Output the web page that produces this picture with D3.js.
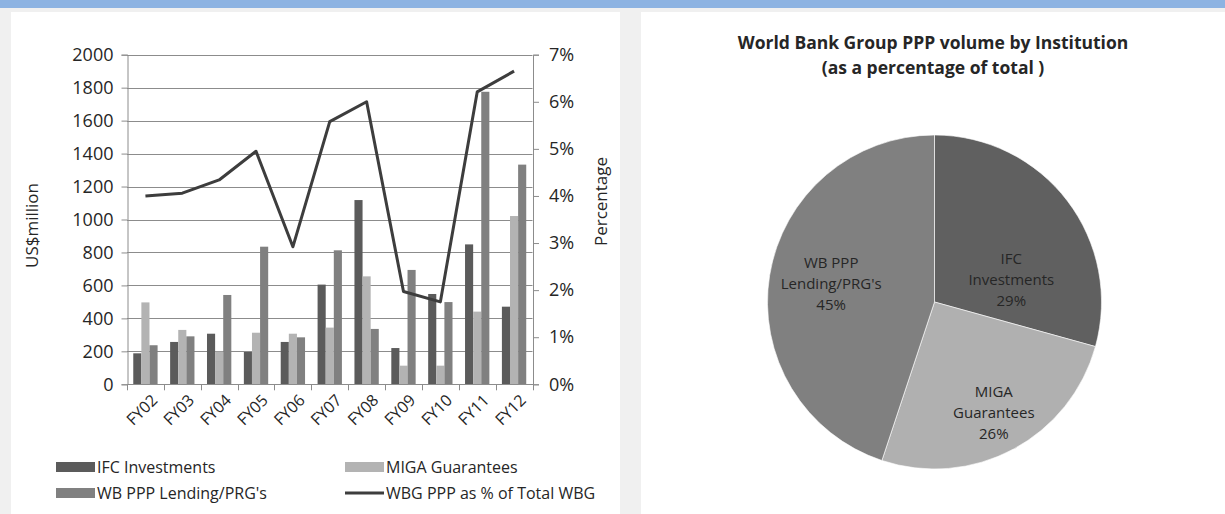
<!DOCTYPE html>
<html lang="en">
<head>
<meta charset="utf-8">
<title>World Bank Group PPP volume</title>
<style>
  html, body { margin: 0; padding: 0; background: #f0f0f0; }
  svg { display: block; }
  text { font-family: "Open Sans", "DejaVu Sans", sans-serif; fill: #262626; }
</style>
</head>
<body>
<svg id="chart" width="1225" height="514"></svg>

<script src="https://cdn.jsdelivr.net/npm/d3@7"></script>
<script>
// ---- data ----
const years = ['FY02', 'FY03', 'FY04', 'FY05', 'FY06', 'FY07', 'FY08', 'FY09', 'FY10', 'FY11', 'FY12'];
const ifcInvestments = [188, 257, 307, 196, 257, 605, 1118, 220, 548, 849, 471];
const migaGuarantees = [497, 330, 198, 313, 307, 344, 655, 113, 113, 441, 1021];
const wbLending = [237, 291, 542, 835, 285, 813, 336, 694, 499, 1775, 1333];
const wbgShare = [4.0, 4.06, 4.34, 4.95, 2.92, 5.58, 6.0, 1.97, 1.75, 6.21, 6.65]; // percent
const leftTicks = [0, 200, 400, 600, 800, 1000, 1200, 1400, 1600, 1800, 2000];
const rightTicks = [0, 1, 2, 3, 4, 5, 6, 7];

const pieLines = [['IFC', 'Investments'], ['MIGA', 'Guarantees'], ['WB PPP', "Lending/PRG's"]];
const pieShares = [29.3, 25.8, 44.9];

const seriesNames = ['IFC Investments', 'MIGA Guarantees', "WB PPP Lending/PRG's"];
const seriesColors = ['#5b5b5b', '#b3b3b3', '#808080'];
const lineColor = '#3d3d3d';

const svg = d3.select('#chart');

// page background: blue strip on top, grey gap, two white panels
svg.append('rect').attr('x', 0).attr('y', 0).attr('width', 1225).attr('height', 514).attr('fill', '#f0f0f0');
svg.append('rect').attr('x', 0).attr('y', 0).attr('width', 1225).attr('height', 8).attr('fill', '#8db3e2');
svg.append('rect').attr('x', 11).attr('y', 12).attr('width', 609).attr('height', 502).attr('fill', '#fff');
svg.append('rect').attr('x', 641).attr('y', 12).attr('width', 584).attr('height', 502).attr('fill', '#fff');

// ================= left: bars + line =================
const plot = { left: 127, right: 532.5, top: 54.7, bottom: 384.3 };

const x = d3.scaleBand()
  .domain(years)
  .range([plot.left, plot.right])
  .paddingInner(0.34)
  .paddingOuter(0.17);

const xSub = d3.scaleBand()
  .domain([0, 1, 2])
  .range([0, x.bandwidth()]);

const y = d3.scaleLinear().domain([0, 2000]).range([plot.bottom, plot.top]);
const yPct = d3.scaleLinear().domain([0, 7]).range([plot.bottom, plot.top]);

const left = svg.append('g');

// gridlines
left.append('g')
  .selectAll('line')
  .data(leftTicks.slice(1))
  .join('line')
  .attr('x1', plot.left).attr('x2', plot.right)
  .attr('y1', d => Math.round(y(d)) + 0.5).attr('y2', d => Math.round(y(d)) + 0.5)
  .attr('stroke', '#8c8c8c').attr('stroke-width', 1);

// bars
const table = years.map((yr, i) => ({ yr, vals: [ifcInvestments[i], migaGuarantees[i], wbLending[i]] }));

left.append('g')
  .selectAll('g')
  .data(table)
  .join('g')
  .attr('transform', d => `translate(${x(d.yr)},0)`)
  .selectAll('rect')
  .data(d => d.vals.map((v, k) => ({ v, k })))
  .join('rect')
  .attr('x', d => xSub(d.k))
  .attr('width', xSub.bandwidth())
  .attr('y', d => y(d.v))
  .attr('height', d => y(0) - y(d.v))
  .attr('fill', d => seriesColors[d.k]);

// left axis
const yAxis = d3.axisLeft(y).tickValues(leftTicks).tickSize(6).tickPadding(8)
  .tickFormat(d3.format('d'));
const gY = left.append('g')
  .attr('transform', `translate(${plot.left + 0.5},0)`)
  .call(yAxis);

// right axis
const yAxisR = d3.axisRight(yPct).tickValues(rightTicks).tickSize(6).tickPadding(10)
  .tickFormat(d => d + '%');
const gYR = left.append('g')
  .attr('transform', `translate(${plot.right + 0.5},0)`)
  .call(yAxisR);

// x axis: ticks at category boundaries
const gX = left.append('g');
gX.append('line')
  .attr('x1', plot.left).attr('x2', plot.right + 1)
  .attr('y1', Math.round(plot.bottom) + 0.5).attr('y2', Math.round(plot.bottom) + 0.5)
  .attr('stroke', '#8c8c8c');
gX.selectAll('line.tk')
  .data(d3.range(years.length + 1))
  .join('line')
  .attr('class', 'tk')
  .attr('x1', i => Math.round(plot.left + i * x.step()) + 0.5)
  .attr('x2', i => Math.round(plot.left + i * x.step()) + 0.5)
  .attr('y1', plot.bottom).attr('y2', plot.bottom + 6)
  .attr('stroke', '#8c8c8c');
gX.selectAll('text')
  .data(years)
  .join('text')
  .attr('transform', d => `translate(${x(d) + x.bandwidth() / 2 + 9},${plot.bottom + 13}) rotate(-45)`)
  .attr('text-anchor', 'end')
  .attr('dy', '0.35em')
  .style('font-size', '16px')
  .text(d => d);

[gY, gYR].forEach(g => {
  g.select('.domain').attr('stroke', '#8c8c8c');
  g.selectAll('.tick line').attr('stroke', '#8c8c8c');
  g.selectAll('.tick text').style('font-size', '18px').attr('fill', '#262626')
    .style('font-family', '"Open Sans", sans-serif');
});

// percentage line
const line = d3.line()
  .x((d, i) => x(years[i]) + x.bandwidth() / 2)
  .y(d => yPct(d));

left.append('path')
  .datum(wbgShare)
  .attr('d', line)
  .attr('fill', 'none')
  .attr('stroke', lineColor)
  .attr('stroke-width', 3)
  .attr('stroke-linejoin', 'round');

// axis titles
left.append('text')
  .attr('transform', `translate(38,${(plot.top + plot.bottom) / 2 + 6}) rotate(-90)`)
  .attr('text-anchor', 'middle')
  .style('font-size', '17px')
  .text('US$million');

left.append('text')
  .attr('transform', `translate(607,${(plot.top + plot.bottom) / 2 - 18}) rotate(-90)`)
  .attr('text-anchor', 'middle')
  .style('font-size', '17px')
  .text('Percentage');

// legend
const legendItems = [
  { name: seriesNames[0], type: 'rect', color: seriesColors[0], col: 0, row: 0 },
  { name: seriesNames[1], type: 'rect', color: seriesColors[1], col: 1, row: 0 },
  { name: seriesNames[2], type: 'rect', color: seriesColors[2], col: 0, row: 1 },
  { name: 'WBG PPP as % of Total WBG', type: 'line', color: lineColor, col: 1, row: 1 }
];
const legend = left.append('g')
  .selectAll('g')
  .data(legendItems)
  .join('g')
  .attr('transform', d => `translate(${56 + d.col * 289},${467 + d.row * 26})`);

legend.filter(d => d.type === 'rect').append('rect')
  .attr('x', 0).attr('y', -5).attr('width', 39).attr('height', 10)
  .attr('fill', d => d.color);
legend.filter(d => d.type === 'line').append('line')
  .attr('x1', 0).attr('x2', 39).attr('y1', 0).attr('y2', 0)
  .attr('stroke', d => d.color).attr('stroke-width', 3);
legend.append('text')
  .attr('x', 41).attr('y', 0).attr('dy', '0.35em')
  .style('font-size', '16px')
  .text(d => d.name);

// ================= right: pie =================
const pieCenter = [934.5, 302];
const radius = 167;
const pieColors = ['#606060', '#b0b0b0', '#808080'];

const right = svg.append('g');

right.append('text')
  .attr('x', 933).attr('y', 49)
  .attr('text-anchor', 'middle')
  .style('font-size', '17.5px').style('font-weight', 'bold').attr('fill', '#111')
  .text('World Bank Group PPP volume by Institution');
right.append('text')
  .attr('x', 933).attr('y', 74)
  .attr('text-anchor', 'middle')
  .style('font-size', '17.5px').style('font-weight', 'bold').attr('fill', '#111')
  .text('(as a percentage of total )');

const pieData = d3.pie().sort(null).value(d => d)(pieShares);
const arc = d3.arc().innerRadius(0).outerRadius(radius);

const pieG = right.append('g').attr('transform', `translate(${pieCenter})`);
pieG.selectAll('path')
  .data(pieData)
  .join('path')
  .attr('d', arc)
  .attr('fill', (d, i) => pieColors[i])
  .attr('stroke', '#fff').attr('stroke-width', 0.6);

// label placement (best-fit style): angle nudge and radius per slice
const labelNudge = [21, 0, 1];
const labelRadius = [80, 126, 105];
const lbl = pieG.selectAll('g.lbl')
  .data(pieData)
  .join('g')
  .attr('class', 'lbl')
  .attr('transform', (d, i) => {
    const a = (d.startAngle + d.endAngle) / 2 + labelNudge[i] * Math.PI / 180;
    return `translate(${labelRadius[i] * Math.sin(a)},${-labelRadius[i] * Math.cos(a)})`;
  });
lbl.each(function (d, i) {
  const rows = pieLines[i].concat([Math.round(pieShares[i]) + '%']);
  d3.select(this).selectAll('text')
    .data(rows)
    .join('text')
    .attr('text-anchor', 'middle')
    .attr('y', (r, k) => (k - 1) * 21)
    .attr('dy', '0.35em')
    .style('font-size', '15px')
    .attr('fill', '#1a1a1a')
    .text(r => r);
});
</script>
</body>
</html>
